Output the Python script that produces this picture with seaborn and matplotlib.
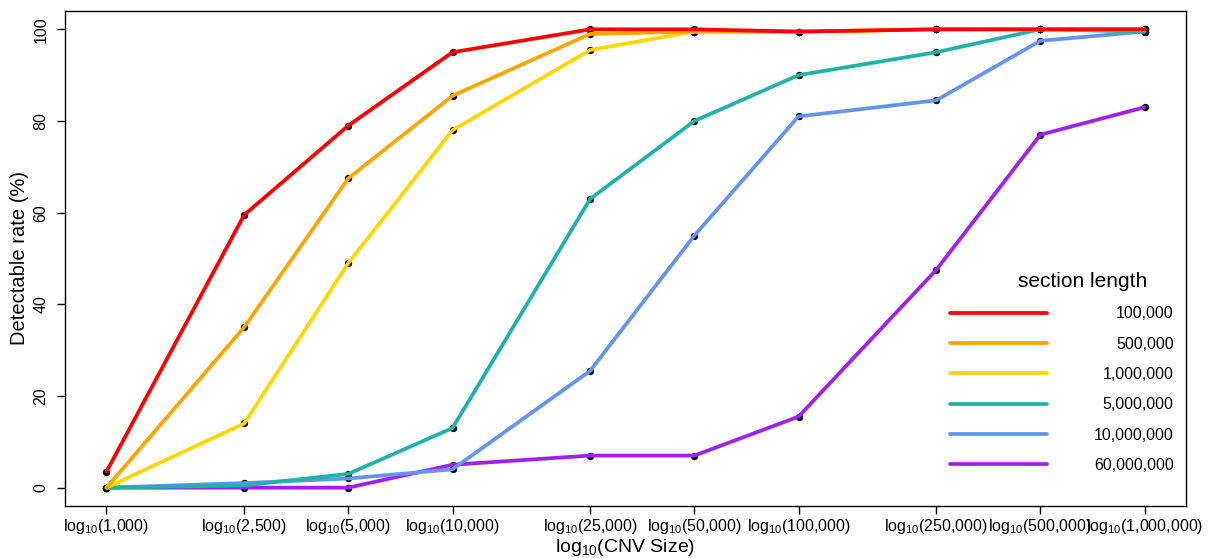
import numpy as np
import pandas as pd
import matplotlib
matplotlib.use("Agg")
import matplotlib.pyplot as plt
import seaborn as sns
from matplotlib.lines import Line2D

cnv_sizes = [1000, 2500, 5000, 10000, 25000, 50000, 100000, 250000, 500000, 1000000]
tick_labels = ["1,000", "2,500", "5,000", "10,000", "25,000", "50,000",
               "100,000", "250,000", "500,000", "1,000,000"]
section_lengths = ["100,000", "500,000", "1,000,000", "5,000,000", "10,000,000", "60,000,000"]

rate_100k = [3.5, 59.5, 79, 95, 100, 100, 99.5, 100, 100, 100]
rate_500k = [0, 35, 67.5, 85.5, 99, 99.5, 99.5, 100, 100, 100]
rate_1m = [0, 14, 49, 78, 95.5, 99.5, 99.5, 100, 100, 100]
rate_5m = [0, 0.5, 3, 13, 63, 80, 90, 95, 100, 99.5]
rate_10m = [0, 1, 2, 4, 25.5, 55, 81, 84.5, 97.5, 99.5]
rate_60m = [0, 0, 0, 5, 7, 7, 15.5, 47.5, 77, 83]

colors = ["#FF0000", "#FFA500", "#FFD700", "#20B2AA", "#6495ED", "#A020F0"]

series = [rate_100k, rate_500k, rate_1m, rate_5m, rate_10m, rate_60m]
rows = []
for name, vals in zip(section_lengths, series):
    for s, v in zip(cnv_sizes, vals):
        rows.append({"size": np.log10(s), "rate": v, "section": name})
df = pd.DataFrame(rows)

sns.set_theme(style="white")
plt.rcParams["font.family"] = ["Liberation Sans", "DejaVu Sans"]
plt.rcParams["mathtext.fontset"] = "custom"
plt.rcParams["mathtext.rm"] = "Liberation Sans"
plt.rcParams["mathtext.it"] = "Liberation Sans"
plt.rcParams["text.color"] = "black"
plt.rcParams["axes.labelcolor"] = "black"
plt.rcParams["xtick.color"] = "black"
plt.rcParams["ytick.color"] = "black"

fig = plt.figure(figsize=(12.12, 5.58), dpi=100)
ax = fig.add_axes([0.0536, 0.0932, 0.9250, 0.8871])

palette = dict(zip(section_lengths, colors))
sns.scatterplot(data=df, x="size", y="rate", color="black", s=28, ax=ax,
                legend=False, zorder=2, edgecolor="black", linewidth=0)
for name in reversed(section_lengths):
    sub = df[df["section"] == name]
    sns.lineplot(data=sub, x="size", y="rate", color=palette[name], lw=2.7,
                 ax=ax, legend=False, zorder=3, estimator=None, sort=False)

ax.set_xlim(2.88, 6.12)
ax.set_ylim(-4, 104)
ax.set_xticks(np.log10(cnv_sizes))
ax.set_xticklabels([r"log$_{10}$(" + t + ")" for t in tick_labels], fontsize=11.5)
ax.set_yticks([0, 20, 40, 60, 80, 100])
ax.set_yticklabels(["0", "20", "40", "60", "80", "100"], fontsize=11.5,
                   rotation=90, va="center")
ax.tick_params(axis="x", direction="out", length=6, width=1, bottom=True, pad=2)
ax.tick_params(axis="y", direction="out", length=6, width=1, left=True, pad=6)
ax.set_xlabel(r"log$_{10}$(CNV Size)", fontsize=14, labelpad=1)
ax.set_ylabel("Detectable rate (%)", fontsize=14.5, labelpad=3)
for sp in ax.spines.values():
    sp.set_color("black")
    sp.set_linewidth(1)

handles = [Line2D([0], [0], color=c, lw=2.7) for c in colors]
leg = ax.legend(handles, section_lengths, title="section length", loc="upper left",
                bbox_to_anchor=(0.7895, 0.473), frameon=False, fontsize=11.5,
                title_fontsize=15, handlelength=6.07, handletextpad=2.94,
                labelspacing=0.96, borderpad=0, borderaxespad=0)

fig.canvas.draw()
renderer = fig.canvas.get_renderer()
texts = leg.get_texts()
widths = [t.get_window_extent(renderer).width for t in texts]
maxw = max(widths)
for t, w in zip(texts, widths):
    t.set_position((maxw - w, 0))
leg.get_title().set_position((21, 0))

fig.savefig("out.png", dpi=100)
